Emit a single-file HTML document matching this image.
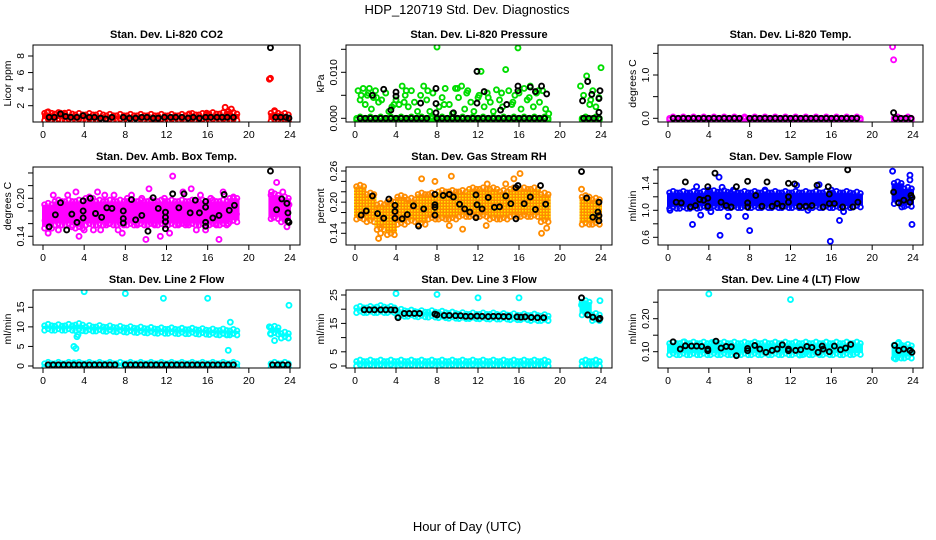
<!DOCTYPE html>
<html><head><meta charset="utf-8"><style>
html,body{margin:0;padding:0;background:#fff;}
svg{display:block;font-family:"Liberation Sans",sans-serif;}
</style></head><body>
<svg id="c" width="936" height="540" viewBox="0 0 936 540">
<text x="467" y="14" font-size="13" text-anchor="middle">HDP_120719  Std. Dev. Diagnostics</text>
<text x="467" y="531" font-size="13" text-anchor="middle">Hour of Day (UTC)</text>
</svg>
<script>
// ---------- DATA ----------
const xTicks=[0,4,8,12,16,20,24];
const bandHours=[0,1,2,3,4,5,6,7,8,9,10,11,12,13,14,15,16,17,18,22,23];
const zeroTimes=[0.5,1,1.5,2,2.5,3,3.5,4,4.5,5,5.5,6,6.5,7,8,8.5,9,9.5,10,10.5,11,11.5,12,12.5,13,13.5,14,14.5,15,15.5,16,16.5,17,17.5,18,18.5,22.3,22.8,23.3,23.8];

// P1 CO2
const co2Lo=[0.4,0.4,0.4,0.4,0.4,0.4,0.4,0.4,0.4,0.4,0.4,0.4,0.4,0.4,0.4,0.4,0.4,0.4,0.4,0.3,0.3];
const co2Hi=[1.1,1.0,1.0,0.9,0.9,0.9,0.8,0.8,0.8,0.8,0.8,0.8,0.8,0.8,0.9,0.9,1.0,1.0,1.0,1.1,0.9];
const co2OutT=[0.4,1.7,2.1,14.2,15.9,17.7,18.3,18.0,22.0,22.1,22.5];
const co2OutV=[1.2,1.1,1.1,1.0,1.1,1.8,1.6,1.3,5.2,5.3,1.4];
const co2BlkT=[0.6,1.1,1.7,2.2,2.7,3.3,3.9,4.5,5.0,5.6,6.1,6.7,7.8,8.4,9.0,9.6,10.1,10.7,11.2,11.8,12.4,12.9,13.5,14.1,14.6,15.2,15.8,16.3,16.9,17.4,17.9,18.5,22.1,22.6,23.1,23.6,23.9];
const co2BlkV=[0.6,0.6,1.0,0.7,0.6,0.6,0.8,0.6,0.6,0.5,0.4,0.6,0.6,0.5,0.5,0.6,0.6,0.5,0.5,0.6,0.6,0.6,0.6,0.5,0.6,0.5,0.6,0.6,0.6,0.6,0.6,0.6,9.0,0.6,0.6,0.6,0.5];

// P2 Pressure
const prT=[0.3,0.5,0.8,1.0,1.2,1.4,1.6,1.8,2.0,2.3,2.6,3.0,3.3,3.6,4.0,4.3,4.6,4.9,5.2,5.5,5.8,6.1,6.4,6.7,7.0,7.3,7.6,8.0,8.2,8.5,8.8,9.2,9.5,9.8,10.1,10.4,10.7,11.0,11.3,11.6,12.0,12.3,12.6,12.9,13.2,13.5,13.8,14.1,14.4,14.7,15.0,15.3,15.6,15.9,16.2,16.5,16.8,17.1,17.4,17.7,18.0,18.3,18.6,18.9,22.0,22.3,22.6,22.9,23.2,23.5,23.8,24.0,0.6,1.3,2.1,3.8,4.8,5.0,7.1,8.7,10.0,10.9,12.1,13.0,14.3,15.4,16.0,17.0,17.9,23.0];
const prV=[0.006,0.004,0.0065,0.003,0.005,0.0065,0.002,0.0045,0.006,0.0035,0.004,0.0055,0.0015,0.0025,0.004,0.003,0.007,0.005,0.0025,0.006,0.0035,0.0015,0.005,0.007,0.004,0.0015,0.0055,0.0155,0.0025,0.0045,0.0065,0.003,0.001,0.0065,0.0045,0.007,0.002,0.006,0.0035,0.0015,0.0045,0.0102,0.0025,0.0055,0.0035,0.0015,0.0062,0.004,0.0025,0.0106,0.006,0.003,0.005,0.0153,0.002,0.0065,0.004,0.007,0.0025,0.0055,0.0035,0.006,0.002,0.001,0.007,0.005,0.0092,0.003,0.006,0.0025,0.0045,0.011,0.005,0.0055,0.0045,0.003,0.0035,0.006,0.006,0.003,0.0065,0.0055,0.005,0.0045,0.0055,0.0035,0.0055,0.0045,0.006,0.004];
const prBlkT=[1.7,2.8,3.5,4.0,4.0,6.4,7.9,7.9,7.9,9.6,11.9,11.9,12.6,14.2,14.8,15.9,15.9,17.1,17.6,18.2,18.7,22.2,22.7,23.1,23.8,23.8,23.9];
const prBlkV=[0.005,0.0063,0.0018,0.0048,0.0057,0.0033,0.0065,0.0032,0.0012,0.0012,0.0033,0.0102,0.0058,0.0018,0.003,0.007,0.006,0.0068,0.0058,0.007,0.0053,0.0038,0.008,0.0052,0.0043,0.0013,0.006];

// P3 Temp
const tmOutT=[22.0,22.1];
const tmOutV=[1.65,1.35];
const tmBlkT=[22.1];
const tmBlkV=[0.13];

// P4 Amb box temp
const abLo=[0.155,0.16,0.16,0.155,0.16,0.16,0.16,0.16,0.16,0.16,0.16,0.16,0.16,0.16,0.16,0.16,0.16,0.16,0.165,0.17,0.165];
const abHi=[0.19,0.195,0.195,0.195,0.2,0.195,0.195,0.195,0.195,0.195,0.195,0.195,0.195,0.195,0.195,0.195,0.195,0.195,0.2,0.205,0.2];
const abOutT=[0.2,0.5,1.0,1.5,2.0,2.4,2.8,3.2,3.5,4.0,4.5,4.9,5.3,5.6,6.0,6.4,6.9,7.3,7.7,8.2,8.6,9.1,9.6,10.0,10.3,10.8,11.4,11.8,12.3,12.6,13.2,13.6,14.0,14.4,14.9,15.3,15.8,16.3,16.8,17.1,17.5,18.0,18.5,18.8,22.2,22.4,22.7,23.0,23.3,23.7,23.9];
const abOutV=[0.165,0.145,0.205,0.15,0.17,0.205,0.155,0.21,0.14,0.15,0.2,0.15,0.21,0.15,0.205,0.16,0.205,0.15,0.145,0.2,0.205,0.16,0.2,0.135,0.215,0.16,0.14,0.2,0.145,0.235,0.16,0.21,0.16,0.215,0.15,0.205,0.15,0.2,0.16,0.135,0.21,0.16,0.2,0.175,0.21,0.17,0.225,0.185,0.21,0.155,0.19];
const abBlkT=[0.6,1.2,1.7,2.3,2.8,3.3,3.9,3.9,3.9,4.6,5.1,5.7,6.2,6.7,7.8,7.8,7.8,8.6,9.0,9.6,10.2,10.7,11.2,11.9,11.9,11.9,11.9,12.6,13.2,13.7,14.3,14.8,15.2,15.8,15.8,15.8,15.8,16.5,17.1,17.6,18.1,18.6,22.1,22.7,23.2,23.7,23.8,23.8,23.9];
const abBlkV=[0.155,0.174,0.193,0.15,0.175,0.162,0.196,0.18,0.169,0.2,0.176,0.17,0.185,0.184,0.18,0.168,0.161,0.198,0.166,0.173,0.148,0.201,0.184,0.178,0.163,0.17,0.152,0.207,0.185,0.207,0.177,0.197,0.177,0.186,0.195,0.162,0.156,0.169,0.173,0.206,0.181,0.189,0.243,0.182,0.199,0.192,0.177,0.164,0.162];

// P5 RH
const rhLo=[0.17,0.165,0.15,0.14,0.16,0.165,0.16,0.17,0.17,0.17,0.175,0.175,0.175,0.17,0.17,0.175,0.175,0.175,0.165,0.16,0.16];
const rhHi=[0.23,0.215,0.195,0.2,0.21,0.205,0.215,0.215,0.22,0.22,0.22,0.225,0.225,0.225,0.22,0.225,0.225,0.225,0.215,0.21,0.205];
const rhOutT=[2.3,2.5,6.5,7.8,9.4,10.5,12.9,14.7,15.5,16.1,18.2,18.7,22.1,9.2,12.8];
const rhOutV=[0.13,0.14,0.245,0.24,0.25,0.148,0.235,0.235,0.245,0.255,0.14,0.15,0.225,0.155,0.155];
const rhBlkT=[0.6,1.1,1.7,2.2,2.8,3.3,3.9,3.9,3.9,4.6,5.1,5.7,6.2,6.7,7.8,7.8,7.8,7.8,8.6,9.2,9.6,10.2,10.7,11.2,11.8,11.9,11.8,12.4,13.0,13.6,14.1,14.7,15.2,15.7,15.9,15.7,16.5,17.1,17.6,18.1,18.6,22.1,22.6,23.2,23.7,23.8,23.8,23.8];
const rhBlkV=[0.175,0.183,0.212,0.178,0.169,0.206,0.194,0.182,0.169,0.168,0.176,0.193,0.154,0.187,0.215,0.195,0.19,0.175,0.213,0.215,0.21,0.196,0.187,0.181,0.214,0.195,0.17,0.187,0.209,0.19,0.191,0.212,0.197,0.228,0.232,0.168,0.197,0.21,0.186,0.232,0.196,0.259,0.208,0.171,0.181,0.2,0.174,0.164];

// P6 Sample flow
const sfLo=[1.05,1.05,1.05,1.06,1.06,1.06,1.06,1.06,1.06,1.06,1.06,1.06,1.06,1.06,1.06,1.06,1.06,1.06,1.07,1.12,1.08];
const sfHi=[1.26,1.26,1.26,1.26,1.27,1.27,1.26,1.26,1.26,1.26,1.26,1.26,1.26,1.26,1.26,1.26,1.26,1.26,1.25,1.4,1.32];
const sfOutT=[0.2,2.4,2.8,3.2,4.0,4.2,5.0,5.1,5.3,5.9,6.4,7.6,8.0,9.5,12.6,13.7,14.8,15.9,16.0,16.8,17.2,22.0,22.9,23.7,23.9,23.7];
const sfOutV=[1.0,0.79,1.35,0.93,1.3,0.98,1.49,0.63,1.34,0.91,1.3,0.91,0.7,1.3,1.37,1.0,1.38,0.54,1.3,0.85,0.98,1.58,1.05,1.52,0.79,1.45];
const sfBlkT=[0.8,1.3,1.7,2.2,2.7,3.1,3.5,3.9,3.9,3.9,4.6,5.2,5.7,6.2,6.7,7.8,7.8,7.8,8.6,9.2,9.7,10.2,10.7,11.2,11.8,11.8,11.8,12.4,12.9,13.5,14.1,14.6,15.2,15.7,15.8,15.8,16.3,17.1,17.6,18.1,18.6,22.1,22.6,23.1,23.7,23.8,23.9];
const sfBlkV=[1.12,1.11,1.42,1.05,1.07,1.16,1.15,1.35,1.18,1.06,1.55,1.12,1.07,1.05,1.35,1.43,1.11,1.05,1.22,1.06,1.42,1.06,1.1,1.06,1.4,1.2,1.12,1.39,1.06,1.06,1.07,1.37,1.05,1.35,1.24,1.1,1.1,1.05,1.6,1.05,1.12,1.27,1.11,1.15,1.12,1.22,1.19];

// P7 Line 2 flow
const l2Lo=[9.5,9.5,9.5,9.4,9.3,9.3,9.2,9.1,9.0,8.9,8.8,8.7,8.7,8.6,8.6,8.5,8.4,8.3,8.3,8.5,7.5];
const l2Hi=[10.3,10.2,10.3,10.5,10.0,10.0,9.9,9.8,9.7,9.6,9.5,9.4,9.4,9.3,9.3,9.2,9.1,9.1,9.0,9.8,8.3];
const l2ZeroLo=[0,0,0,0,0,0,0,0,0,0,0,0,0,0,0,0,0,0,0,0,0];
const l2ZeroHi=[0.6,0.6,0.6,0.6,0.6,0.6,0.6,0.6,0.6,0.6,0.6,0.6,0.6,0.6,0.6,0.6,0.6,0.6,0.6,0.6,0.6];
const l2OutT=[3.0,3.2,3.3,3.4,4.0,8.0,11.7,16.0,17.9,18.0,18.2,22.0,22.1,22.5,23.9,3.0];
const l2OutV=[5,4.5,7.5,8,19,18.5,17.3,17.3,8,4,11.2,10,8.3,6.5,15.5,0.8];
const l2BlkV=[0.3,0.3,0.3,0.3,0.3,0.3,0.3,0.3,0.3,0.3,0.3,0.3,0.3,0.3,0.3,0.3,0.3,0.3,0.3,0.3,0.3,0.3,0.3,0.3,0.3,0.3,0.3,0.3,0.3,0.3,0.3,0.3,0.3,0.3,0.3,0.3,0.3,0.3,0.3,0.3];

// P8 Line 3 flow
const l3Lo=[19.3,19.3,19.3,19.3,18.0,18.0,17.8,17.7,17.5,17.3,17.2,17.2,17.1,17.0,17.0,16.8,16.8,16.5,16.5,18.5,16.5];
const l3Hi=[20.5,20.5,20.8,20.5,19.5,19.2,19.0,19.0,18.8,18.5,18.3,18.2,18.2,18.2,18.0,17.9,17.8,17.8,17.6,22.5,18.0];
const l3ZeroLo=[0.5,0.5,0.5,0.5,0.5,0.5,0.5,0.5,0.5,0.5,0.5,0.5,0.5,0.5,0.5,0.5,0.5,0.5,0.5,0.5,0.5];
const l3ZeroHi=[1.6,1.6,1.6,1.6,1.6,1.6,1.6,1.6,1.6,1.6,1.6,1.6,1.6,1.6,1.6,1.6,1.6,1.6,1.6,1.6,1.6];
const l3OutT=[4.0,8.0,12.0,16.0,23.9,22.1,22.4];
const l3OutV=[25.5,25.2,24,24,23,21.5,22];
const l3BlkT=[0.9,1.4,1.9,2.5,3.0,3.5,3.9,4.2,4.8,5.3,5.8,6.3,7.8,8.0,8.7,9.2,9.8,10.3,10.8,11.3,11.9,12.4,13.0,13.5,14.0,14.5,15.0,15.8,16.2,16.6,17.2,17.8,18.4,22.1,22.7,23.2,23.8,23.9];
const l3BlkV=[19.8,19.8,19.8,19.8,19.8,19.8,19.7,17.0,18.5,18.5,18.5,18.5,18.3,18.0,17.8,17.8,17.7,17.7,17.5,17.5,17.6,17.5,17.4,17.5,17.5,17.4,17.4,17.3,17.2,17.3,17.1,17.0,17.0,24.0,18.0,17.2,16.5,16.8];

// P9 Line 4 (LT) flow
const l4Lo=[0.095,0.095,0.095,0.095,0.095,0.095,0.095,0.095,0.095,0.095,0.095,0.095,0.095,0.095,0.095,0.095,0.095,0.095,0.096,0.085,0.085];
const l4Hi=[0.125,0.125,0.125,0.125,0.125,0.125,0.125,0.125,0.125,0.125,0.125,0.125,0.125,0.125,0.125,0.125,0.125,0.125,0.125,0.12,0.118];
const l4OutT=[4.0,12.0,1.6,4.3,12.9,13.3,22.3,23.0,22.6];
const l4OutV=[0.275,0.258,0.13,0.128,0.09,0.092,0.078,0.1,0.128];
const l4BlkT=[0.5,1.2,1.7,2.3,2.8,3.3,3.9,3.9,4.7,5.2,5.7,6.2,6.7,7.8,7.8,8.5,9.0,9.6,10.2,10.7,11.2,11.8,11.8,12.5,13.0,13.6,14.1,14.7,15.1,15.2,15.8,16.3,16.9,17.4,17.9,22.2,22.6,23.1,23.7,23.9];
const l4BlkV=[0.13,0.108,0.118,0.117,0.117,0.116,0.108,0.103,0.132,0.111,0.116,0.115,0.088,0.11,0.103,0.119,0.108,0.098,0.104,0.108,0.121,0.108,0.103,0.104,0.106,0.116,0.113,0.098,0.117,0.108,0.1,0.117,0.106,0.111,0.122,0.119,0.104,0.108,0.104,0.098];

// ---------- DRAWING ----------
const NS="http://www.w3.org/2000/svg";
const svg=document.getElementById('c');
function mk(tag,attrs,parent){const e=document.createElementNS(NS,tag);for(const k in attrs)e.setAttribute(k,attrs[k]);(parent||svg).appendChild(e);return e;}
const cols=[{l:33,r:300,x0:43,x24:290},{l:346,r:612,x0:355,x24:601},{l:658,r:923,x0:668,x24:913}];
const rows=[{t:45,b:122},{t:167,b:245},{t:290,b:368}];
const defs=mk('defs',{});
const pat=mk('pattern',{id:'dots',width:3,height:3,patternUnits:'userSpaceOnUse'},defs);
mk('rect',{x:0,y:0,width:1.5,height:1.5,fill:'#ffe800'},pat);

function panel(o){
  const c=cols[o.col],r=rows[o.row];
  const g=mk('g',{});
  
  
  const X=h=>c.x0+(c.x24-c.x0)*h/24;
  const Y=v=>o.p1+(v-o.v1)*(o.p2-o.p1)/(o.v2-o.v1);
  const cx=(c.l+c.r)/2;
  const t=mk('text',{x:cx,y:r.t-7,'font-size':11,'font-weight':'bold','text-anchor':'middle'},g);
  t.textContent=o.title;
  
  
  const cid='clip'+o.col+o.row;
  const cp=mk('clipPath',{id:cid},g);mk('rect',{x:c.l,y:r.t,width:c.r-c.l,height:r.b-r.t},cp);
  const dg=mk('g',{'clip-path':'url(#'+cid+')'},g);
  function bands(lo,hi,col,extra){
    bandHours.forEach((h,i)=>{
      const x1=X(h)-1, x2=X(h+1)+1;
      const y1=Y(hi[i]), y2=Y(lo[i]);
      const b=mk('rect',{x:x1,y:Math.min(y1,y2),width:x2-x1,height:Math.abs(y2-y1),fill:col},dg);
      
      
      if(extra){mk('rect',{x:x1,y:Math.min(y1,y2),width:x2-x1,height:Math.abs(y2-y1),fill:'url(#dots)'},dg);}
      // ragged edge markers along the cloud's upper and lower bounds
      [0.15,0.5,0.85].forEach((f,k)=>{
        const e1=mk('circle',{cx:X(h+f),cy:y1-(k%2?1.5:0),r:2.4,fill:'none',stroke:col,'stroke-width':1.8},dg);
        
        
        const e2=mk('circle',{cx:X(h+f),cy:y2+(k%2?0:1.5),r:2.4,fill:'none',stroke:col,'stroke-width':1.8},dg);
        
        
      });
    });
  }
  function pts(T,V,col,name){
    T.forEach((h,i)=>{
      const p=mk('circle',{cx:X(h),cy:Y(V[i]),r:2.5,fill:'none',stroke:col,'stroke-width':1.9},dg);
      
      
    });
  }
  o.draw(bands,pts);
  const bx=mk('rect',{x:c.l,y:r.t,width:c.r-c.l,height:r.b-r.t,fill:'none',stroke:'#000','stroke-width':1},g);
  
  
  mk('line',{x1:X(0),x2:X(24),y1:r.b,y2:r.b,stroke:'#000'},g);
  xTicks.forEach(h=>{
    mk('line',{x1:X(h),x2:X(h),y1:r.b,y2:r.b+5,stroke:'#000'},g);
    const tl=mk('text',{x:X(h),y:r.b+16,'font-size':10.5,'text-anchor':'middle'},g);
    tl.textContent=h;
    
    
  });
  o.ticks.forEach((v,i)=>{
    const y=Y(v);
    mk('line',{x1:c.l-5,x2:c.l,y1:y,y2:y,stroke:'#000'},g);
    if(o.labels[i]){
      const tl=mk('text',{x:c.l-9,y:y,'font-size':10.5,'text-anchor':'middle',transform:'rotate(-90 '+(c.l-9)+' '+y+')'},g);
      tl.textContent=o.labels[i];
      
      
    }
  });
  const ym=(r.t+r.b)/2;
  const yl=mk('text',{x:c.l-22,y:ym,'font-size':10.5,'text-anchor':'middle',transform:'rotate(-90 '+(c.l-22)+' '+ym+')'},g);
  yl.textContent=o.ylab;
  
  
}

const zeroV=()=>zeroTimes.map(()=>0);
const RED='#ff0000',GRN='#00dd00',MAG='#ff00ff',BLU='#0000ff',CY='#00ffff',ORG='#ff8c00';
const allLo0=bandHours.map(()=>0), allHi0=bandHours.map(()=>0);
const tmLo0=bandHours.map(()=>0), tmHi0=bandHours.map(()=>0);

panel({name:'panel-co2',col:0,row:0,title:'Stan. Dev. Li-820 CO2',ylab:'Licor ppm',v1:2,p1:105.7,v2:8,p2:56,ticks:[2,4,6,8],labels:['2','4','6','8'],
 draw:(b,p)=>{b(co2Lo,co2Hi,RED);p(co2OutT,co2OutV,RED,'co2-point');p(co2BlkT,co2BlkV,'#000','co2-hourly-point');}});
panel({name:'panel-pressure',col:1,row:0,title:'Stan. Dev. Li-820 Pressure',ylab:'kPa',v1:0,p1:118.3,v2:0.01,p2:72.3,ticks:[0,0.005,0.01,0.015],labels:['0.000','','0.010',''],
 draw:(b,p)=>{b(allLo0,allHi0,GRN);p(prT,prV,GRN,'pressure-point');p(zeroTimes,zeroV(),'#000','pressure-hourly-point');p(prBlkT,prBlkV,'#000','pressure-hourly-point');}});
panel({name:'panel-li820-temp',col:2,row:0,title:'Stan. Dev. Li-820 Temp.',ylab:'degrees C',v1:0,p1:118.3,v2:1,p2:75,ticks:[0,0.5,1,1.5],labels:['0.0','','1.0',''],
 draw:(b,p)=>{b(tmLo0,tmHi0,MAG);p(tmOutT,tmOutV,MAG,'temp-point');p(zeroTimes,zeroV(),'#000','temp-hourly-point');p(tmBlkT,tmBlkV,'#000','temp-hourly-point');}});
panel({name:'panel-amb-box-temp',col:0,row:1,title:'Stan. Dev. Amb. Box Temp.',ylab:'degrees C',v1:0.2,p1:198.3,v2:0.14,p2:236.3,ticks:[0.14,0.16,0.18,0.2,0.22,0.24],labels:['0.14','','','0.20','',''],
 draw:(b,p)=>{b(abLo,abHi,MAG);p(abOutT,abOutV,MAG,'ambbox-point');p(abBlkT,abBlkV,'#000','ambbox-hourly-point');}});
panel({name:'panel-gas-rh',col:1,row:1,title:'Stan. Dev. Gas Stream RH',ylab:'percent',v1:0.26,p1:171,v2:0.14,p2:233.3,ticks:[0.14,0.16,0.18,0.2,0.22,0.24,0.26],labels:['0.14','','','0.20','','','0.26'],
 draw:(b,p)=>{b(rhLo,rhHi,ORG,true);p(rhOutT,rhOutV,ORG,'rh-point');p(rhBlkT,rhBlkV,'#000','rh-hourly-point');}});
panel({name:'panel-sample-flow',col:2,row:1,title:'Stan. Dev. Sample Flow',ylab:'ml/min',v1:1.4,p1:183.3,v2:0.6,p2:237.3,ticks:[0.6,0.8,1.0,1.2,1.4,1.6],labels:['0.6','','1.0','','1.4',''],
 draw:(b,p)=>{b(sfLo,sfHi,BLU);p(sfOutT,sfOutV,BLU,'sampleflow-point');p(sfBlkT,sfBlkV,'#000','sampleflow-hourly-point');}});
panel({name:'panel-line2-flow',col:0,row:2,title:'Stan. Dev. Line 2 Flow',ylab:'ml/min',v1:0,p1:366,v2:15,p2:307.3,ticks:[0,5,10,15],labels:['0','5','10','15'],
 draw:(b,p)=>{b(l2Lo,l2Hi,CY);b(l2ZeroLo,l2ZeroHi,CY);p(l2OutT,l2OutV,CY,'line2-point');p(zeroTimes,l2BlkV,'#000','line2-hourly-point');}});
panel({name:'panel-line3-flow',col:1,row:2,title:'Stan. Dev. Line 3 Flow',ylab:'ml/min',v1:0,p1:366,v2:25,p2:295,ticks:[0,5,10,15,20,25],labels:['0','5','','15','','25'],
 draw:(b,p)=>{b(l3Lo,l3Hi,CY);b(l3ZeroLo,l3ZeroHi,CY);p(l3OutT,l3OutV,CY,'line3-point');p(l3BlkT,l3BlkV,'#000','line3-hourly-point');}});
panel({name:'panel-line4-flow',col:2,row:2,title:'Stan. Dev. Line 4 (LT) Flow',ylab:'ml/min',v1:0.1,p1:351.7,v2:0.2,p2:318.7,ticks:[0.1,0.15,0.2,0.25],labels:['0.10','','0.20',''],
 draw:(b,p)=>{b(l4Lo,l4Hi,CY);p(l4OutT,l4OutV,CY,'line4-point');p(l4BlkT,l4BlkV,'#000','line4-hourly-point');}});
</script>
</body></html>
